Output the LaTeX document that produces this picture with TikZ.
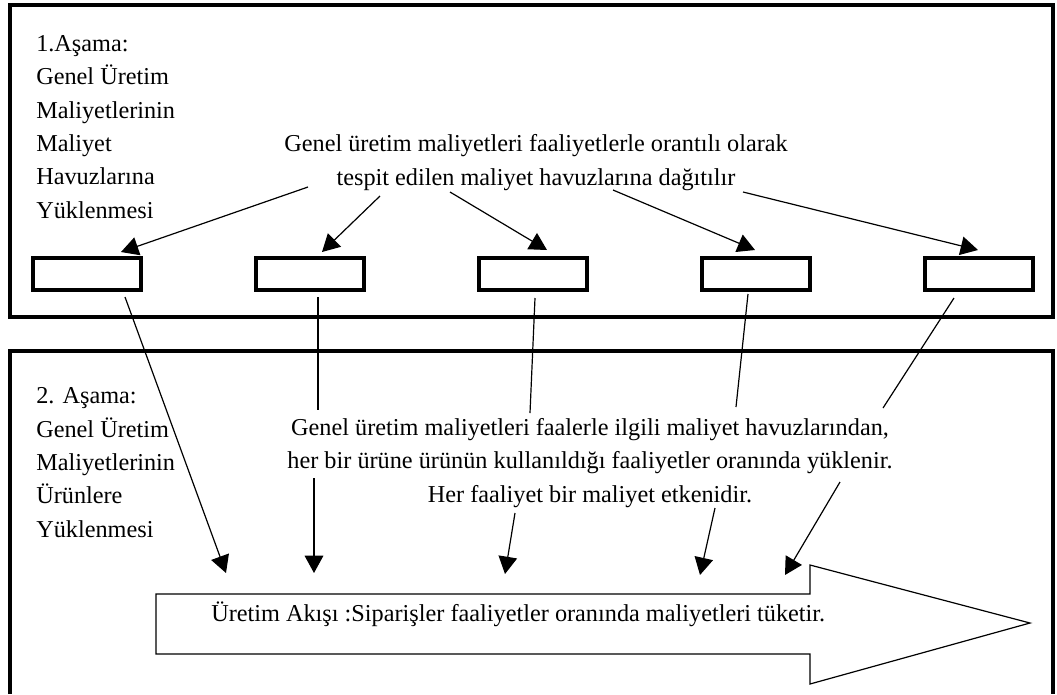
\documentclass[tikz,border=0pt]{standalone}
\usepackage{fontspec}
\setmainfont{Liberation Serif}
\usetikzlibrary{arrows.meta}
\begin{document}
\begin{tikzpicture}[x=0.75pt,y=-0.75pt,>={Triangle[length=13pt,width=14pt]},
  every node/.style={font=\fontsize{18.2}{25}\selectfont,inner sep=0pt},
  frame/.style={draw,line width=2.3pt},
  pool/.style={draw,line width=2.3pt,minimum width=81pt,minimum height=24pt},
  link/.style={line width=0.9pt}]

  \useasboundingbox (0,0) rectangle (1057,694);

  % stage frames
  \draw[frame] (10,5) rectangle (1053,317);
  \draw[frame] (10,694) -- (10,351) -- (1053,351) -- (1053,694);

  % stage 1 (base = last line)
  \node[align=left,anchor=base west] (stage1) at (36,218)
    {1.Aşama:\\Genel Üretim\\Maliyetlerinin\\Maliyet\\Havuzlarına\\Yüklenmesi};
  \node[align=center,anchor=base] (share) at (536,185)
    {Genel üretim maliyetleri faaliyetlerle orantılı olarak\\tespit edilen maliyet havuzlarına dağıtılır};
  \foreach \i/\x in {1/87,2/310,3/533,4/756,5/979}
    \node[pool] (pool\i) at (\x,274) {};

  % stage 2
  \node[align=left,anchor=base west] (stage2) at (36,537)
    {2. Aşama:\\Genel Üretim\\Maliyetlerinin\\Ürünlere\\Yüklenmesi};
  \node[align=center,anchor=base] (load) at (590,502)
    {Genel üretim maliyetleri faalerle ilgili maliyet havuzlarından,\\her bir ürüne ürünün kullanıldığı faaliyetler oranında yüklenir.\\Her faaliyet bir maliyet etkenidir.};

  % production flow
  \draw[line width=0.9pt] (156,594) -- (810,594) -- (810,565) -- (1030,623)
    -- (810,684) -- (810,654) -- (156,654) -- cycle;
  \node[anchor=base west] (flow) at (211,621)
    {Üretim Akışı :Siparişler faaliyetler oranında maliyetleri tüketir.};

  % ends of the connectors
  \coordinate (a1) at (308,187); \coordinate (b1) at (121,252);
  \coordinate (a2) at (380,196); \coordinate (b2) at (322,252);
  \coordinate (a3) at (450,192); \coordinate (b3) at (547,250);
  \coordinate (a4) at (613,190); \coordinate (b4) at (755,250);
  \coordinate (a5) at (743,192); \coordinate (b5) at (978,250);

  \coordinate (c1) at (125,297); \coordinate (f1) at (226,573);
  \coordinate (c2) at (318,297); \coordinate (d2) at (318,410);
  \coordinate (g2) at (314,478); \coordinate (f2) at (314,573);
  \coordinate (c3) at (535,298); \coordinate (d3) at (530,413);
  \coordinate (g3) at (515,513); \coordinate (f3) at (505,574);
  \coordinate (c4) at (748,294); \coordinate (d4) at (736,407);
  \coordinate (g4) at (715,508); \coordinate (f4) at (700,575);
  \coordinate (c5) at (954,298); \coordinate (d5) at (883,408);
  \coordinate (g5) at (840,482); \coordinate (f5) at (785,575);

  \foreach \i in {1,...,5}
    \draw[link,->] (a\i) -- (b\i);
  \draw[link,->] (c1) -- (f1);
  \foreach \i in {2,...,5}{
    \draw[link] (c\i) -- (d\i);
    \draw[link,->] (g\i) -- (f\i);
  }
\end{tikzpicture}
\end{document}
